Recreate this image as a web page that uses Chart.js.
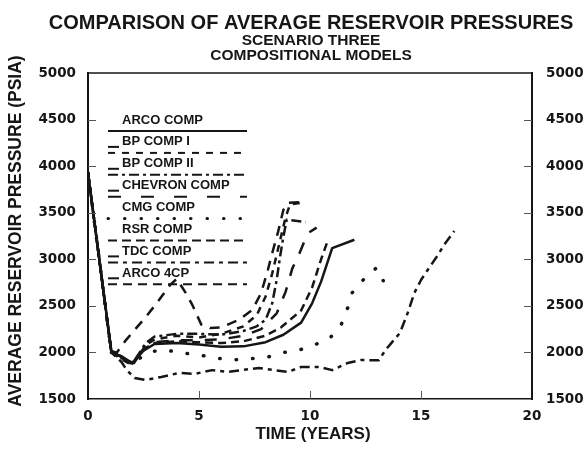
<!DOCTYPE html>
<html>
<head>
<meta charset="utf-8">
<script src="https://cdn.jsdelivr.net/npm/chart.js@4.4.1/dist/chart.umd.min.js"></script>
<style>
  html, body { margin: 0; padding: 0; background: #fff; }
  canvas { display: block; }
</style>
</head>
<body>
<canvas id="pressureChart" width="585" height="453"></canvas>
<script>
// average reservoir pressure, points are [time in years, pressure in psia]
const arcoComp = [[0,3930],[1.05,2020],[1.5,1950],[2,1890],[2.5,2020],[3,2090],[4,2100],[5,2085],[6,2060],[7,2065],[8,2110],[8.8,2190],[9.6,2320],[10.1,2530],[10.5,2760],[11,3120],[12,3210]];
const bpComp1 = [[0,3930],[1.05,2000],[1.5,1930],[2,1860],[2.6,2080],[3,2140],[4,2180],[5,2160],[6,2200],[7,2280],[7.6,2400],[8,2600],[8.3,2850],[8.6,3150],[8.9,3450],[9.1,3590],[9.6,3605]];
const bpComp2 = [[0,3930],[1.05,2010],[1.5,1960],[2,1880],[2.6,2100],[3,2170],[4,2200],[5,2200],[6,2190],[7,2230],[7.6,2280],[8,2350],[8.3,2530],[8.5,2780],[8.65,3025],[8.8,3240],[8.95,3425],[9.8,3400]];
const chevronComp = [[0,3930],[1.05,2000],[1.5,1940],[2,1870],[2.6,2060],[3,2110],[4,2130],[5,2130],[6,2140],[7,2180],[7.8,2250],[8.5,2420],[8.9,2650],[9.2,2900],[9.5,3050],[9.9,3280],[10.3,3340]];
const cmgComp = [[0,3930],[1.05,2000],[1.5,1940],[2,1880],[2.7,2000],[3.4,2030],[4.2,1995],[5,1975],[5.7,1940],[6.5,1920],[7.2,1930],[8.1,1950],[8.7,1995],[9.5,2025],[10.2,2080],[10.9,2155],[11.4,2295],[11.7,2480],[11.9,2640],[12.4,2780],[13,2910],[13.3,2770]];
const rsrComp = [[0,3930],[1.05,2010],[1.5,1950],[2,1880],[2.6,2050],[3,2100],[4,2120],[5,2110],[6,2100],[7,2120],[8,2180],[8.7,2270],[9.6,2450],[10.1,2700],[10.5,3000],[10.8,3200]];
const tdcComp = [[0,3930],[1.05,2000],[1.5,1900],[1.75,1810],[2.1,1725],[2.6,1705],[3.3,1736],[4.1,1780],[4.8,1770],[5.6,1810],[6.3,1790],[6.9,1810],[7.7,1833],[8.4,1810],[9,1790],[9.6,1844],[10.4,1844],[11,1810],[11.7,1887],[12.3,1919],[13.1,1915],[13.4,2026],[14.05,2209],[14.4,2424],[14.7,2638],[15,2778],[15.3,2885],[15.7,3025],[16.1,3175],[16.5,3304]];
const arco4cp = [[0,3930],[1.05,2010],[1.3,2000],[1.7,2130],[2.6,2380],[3.1,2530],[3.7,2725],[4,2790],[4.4,2640],[4.7,2510],[5.1,2300],[5.5,2262],[6,2270],[6.8,2350],[7.4,2456],[7.8,2638],[8.1,2885],[8.3,3068],[8.55,3283],[8.8,3530],[9,3605],[9.7,3616]];

const seriesNames = ['ARCO COMP', 'BP COMP I', 'BP COMP II', 'CHEVRON COMP', 'CMG COMP', 'RSR COMP', 'TDC COMP', 'ARCO 4CP'];
const seriesPoints = [arcoComp, bpComp1, bpComp2, chevronComp, cmgComp, rsrComp, tdcComp, arco4cp];

const xTicks = [0, 5, 10, 15, 20];
const yTicks = [1500, 2000, 2500, 3000, 3500, 4000, 4500, 5000];

const ink = '#161616';
const textFont = '"Liberation Sans", Arial, Helvetica, sans-serif';
const numFont = '"DejaVu Sans", Verdana, sans-serif';

// line pattern per model: dash on the curve, dash on the key, short underscore before the key text
const lineStyles = [
  { dash: [], key: [], lead: false },
  { dash: [7, 6], key: [7, 7], lead: true },
  { dash: [10, 4, 3, 4], key: [10, 4, 3, 4], lead: true },
  { dash: [12, 12], key: [13, 20], lead: true },
  { dash: [0.5, 16], key: [0.5, 16], lead: false, cap: 'round', width: 3.5 },
  { dash: [8, 5], key: [9, 5], lead: false },
  { dash: [10, 5, 4, 5], key: [10, 5, 4, 5], lead: true },
  { dash: [10, 8], key: [9, 6], lead: true }
];

const datasets = seriesNames.map((name, i) => ({
  label: name,
  data: seriesPoints[i].map(p => ({ x: p[0], y: p[1] })),
  showLine: true,
  pointRadius: 0,
  borderColor: ink,
  borderWidth: lineStyles[i].width || 2.5,
  borderDash: lineStyles[i].dash,
  borderCapStyle: lineStyles[i].cap || 'butt',
  borderJoinStyle: 'round',
  tension: 0,
  keyDash: lineStyles[i].key,
  keyLead: lineStyles[i].lead
}));

// frame: top edge and the short inward tick marks
const framePlugin = {
  id: 'framePlugin',
  afterDatasetsDraw(chart) {
    const { ctx, chartArea: a, scales: { x, y } } = chart;
    ctx.save();
    ctx.strokeStyle = ink;
    ctx.lineWidth = 1.5;
    ctx.beginPath();
    ctx.moveTo(a.left, a.top);
    ctx.lineTo(a.right, a.top);
    ctx.stroke();
    ctx.lineWidth = 1;
    ctx.strokeStyle = '#555';
    yTicks.slice(1, -1).forEach(v => {
      const py = Math.round(y.getPixelForValue(v)) + 0.5;
      ctx.beginPath();
      ctx.moveTo(a.left, py); ctx.lineTo(a.left + 8, py);
      ctx.moveTo(a.right - 8, py); ctx.lineTo(a.right, py);
      ctx.stroke();
    });
    xTicks.slice(1, -1).forEach(v => {
      const px = Math.round(x.getPixelForValue(v)) + 0.5;
      ctx.beginPath();
      ctx.moveTo(px, a.bottom); ctx.lineTo(px, a.bottom - 8);
      ctx.stroke();
    });
    ctx.restore();
  }
};

// key in the upper left of the plot, text with a pattern line underneath
const keyPlugin = {
  id: 'keyPlugin',
  afterDatasetsDraw(chart) {
    const { ctx, chartArea: a } = chart;
    const x0 = a.left + 20, x1 = a.left + 159, tx = a.left + 34;
    ctx.save();
    ctx.font = 'bold 13px ' + textFont;
    ctx.fillStyle = ink;
    ctx.strokeStyle = ink;
    ctx.textBaseline = 'middle';
    chart.data.datasets.forEach((ds, i) => {
      const ty = a.top + 47 + i * 21.9;
      ctx.fillText(ds.label, tx, ty);
      ctx.lineWidth = 2;
      ctx.setLineDash([]);
      if (ds.keyLead) {
        ctx.beginPath();
        ctx.moveTo(x0, ty + 5); ctx.lineTo(tx - 3, ty + 5);
        ctx.stroke();
      }
      ctx.setLineDash(ds.keyDash);
      ctx.lineCap = ds.borderCapStyle;
      ctx.lineWidth = ds.borderCapStyle === 'round' ? 3 : 2;
      ctx.beginPath();
      ctx.moveTo(x0, ty + 11); ctx.lineTo(x1, ty + 11);
      ctx.stroke();
    });
    ctx.restore();
  }
};

// headings and axis titles
const headingPlugin = {
  id: 'headingPlugin',
  afterDraw(chart) {
    const { ctx, chartArea: a } = chart;
    const cx = (a.left + a.right) / 2 + 1;
    ctx.save();
    ctx.fillStyle = ink;
    ctx.textAlign = 'center';
    ctx.textBaseline = 'middle';
    ctx.font = 'bold 20px ' + textFont;
    ctx.fillText('COMPARISON OF AVERAGE RESERVOIR PRESSURES', cx, 23);
    ctx.font = 'bold 15.5px ' + textFont;
    ctx.fillText('SCENARIO THREE', cx, 41);
    ctx.fillText('COMPOSITIONAL MODELS', cx, 55.5);
    ctx.font = 'bold 17px ' + textFont;
    ctx.fillText('TIME (YEARS)', cx + 2, 434);
    ctx.translate(16, 231);
    ctx.rotate(-Math.PI / 2);
    ctx.font = 'bold 17.5px ' + textFont;
    ctx.fillText('AVERAGE RESERVOIR PRESSURE (PSIA)', 0, 0);
    ctx.restore();
  }
};

const tickFont = { family: numFont, weight: 'bold', size: 13.5 };

const pressureScale = (position, width, padding) => ({
  type: 'linear',
  position: position,
  min: 1500,
  max: 5000,
  afterBuildTicks: s => { s.ticks = yTicks.map(v => ({ value: v })); },
  afterFit: s => { s.width = width; },
  ticks: { font: tickFont, color: ink, padding: padding, callback: v => String(v) },
  grid: { display: false, drawTicks: false },
  border: { color: ink, width: 2 }
});

new Chart(document.getElementById('pressureChart'), {
  type: 'scatter',
  data: { datasets: datasets },
  options: {
    responsive: false,
    animation: false,
    devicePixelRatio: 1,
    layout: { padding: { top: 73, left: 0, right: 0, bottom: 0 } },
    plugins: { legend: { display: false }, tooltip: { enabled: false } },
    scales: {
      x: {
        type: 'linear',
        min: 0,
        max: 20,
        afterBuildTicks: s => { s.ticks = xTicks.map(v => ({ value: v })); },
        afterFit: s => { s.height = 54; },
        ticks: { font: tickFont, color: ink, padding: 9, callback: v => String(v) },
        grid: { display: false, drawTicks: false },
        border: { color: ink, width: 1.5 }
      },
      y: pressureScale('left', 88, 12),
      y2: pressureScale('right', 53, 14)
    }
  },
  plugins: [framePlugin, keyPlugin, headingPlugin]
});
</script>
</body>
</html>
